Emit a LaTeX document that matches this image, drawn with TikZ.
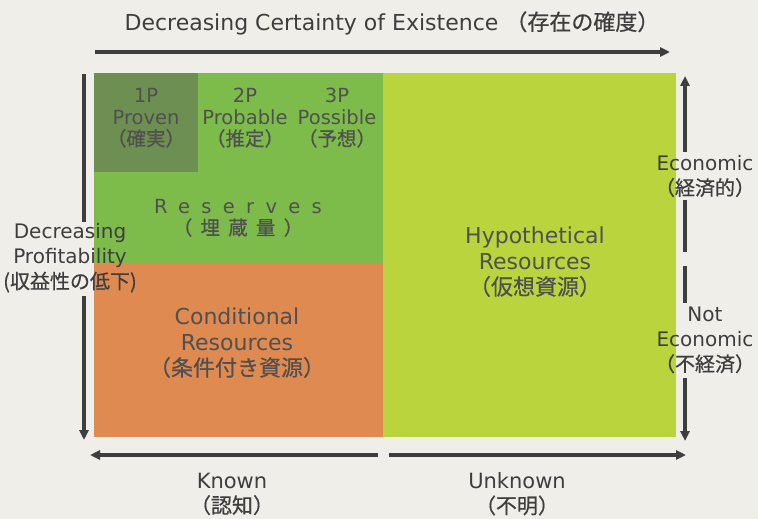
\documentclass[tikz,border=0pt]{standalone}
\usepackage{fontspec}
\setmainfont{DejaVu Sans}
\newfontfamily\jp{Noto Sans CJK JP}[FakeBold=0.6]
\usetikzlibrary{arrows.meta}
\definecolor{bg}{HTML}{EFEEE9}
\definecolor{darkg}{HTML}{6E8F52}
\definecolor{midg}{HTML}{7DBB4A}
\definecolor{orng}{HTML}{DF8A50}
\definecolor{yelg}{HTML}{BAD43E}
\definecolor{ink}{HTML}{3E3E3E}
\definecolor{inner}{HTML}{505050}
\tikzset{
  lbl/.style={text=ink, align=center, inner sep=1pt, font=\fontsize{20}{25}\selectfont},
  inlbl/.style={text=inner, align=center, inner sep=0pt, font=\fontsize{19.5}{21.5}\selectfont},
  bigl/.style={text=inner, align=center, inner sep=0pt, font=\fontsize{22}{25.5}\selectfont},
  axis/.style={draw=ink, line width=3.2pt, -{Triangle[length=10pt,width=9pt]}},
  gapcover/.style={fill=bg},
}
\begin{document}
\begin{tikzpicture}[x=1pt,y=-1pt]
\fill[bg] (0,0) rectangle (758,519);
\useasboundingbox (0,0) rectangle (758,519);
% regions
\fill[yelg] (383,73) rectangle (676,437);
\fill[midg] (94,73) rectangle (383,263);
\fill[darkg] (94,73) rectangle (198,172);
\fill[orng] (94,263) rectangle (383,437);
% title
\node[lbl, font=\fontsize{22}{24}\selectfont] (title) at (392,23) {Decreasing Certainty of Existence {\jp（存在の確度）}};
\coordinate (tl) at (95,52);
\coordinate (tr) at (670,52);
\draw[axis] (tl) -- (tr);
% left vertical
\coordinate (lt) at (84,74);
\coordinate (lb) at (84,440);
\draw[axis] (lt) -- (lb);
\fill[gapcover] (79,222) rectangle (89,296);
\node[lbl, inner sep=0pt] (profit) at (70,258) {Decreasing\\Profitability\\{\jp (収益性の低下)}};
% right vertical
\coordinate (rt) at (685,76);
\coordinate (rm1) at (685,252);
\coordinate (rm2) at (685,266);
\coordinate (rb) at (685,441);
\draw[axis] (rm1) -- (rt);
\draw[axis] (rm2) -- (rb);
\fill[gapcover] (680,152) rectangle (690,200);
\fill[gapcover] (680,303) rectangle (690,378);
\node[lbl, inner sep=0pt] (econ) at (705,176) {Economic\\{\jp（経済的）}};
\node[lbl, inner sep=0pt] (notecon) at (705,340) {Not\\Economic\\{\jp（不経済）}};
% bottom arrows
\coordinate (bl1) at (378,455);
\coordinate (bl2) at (90,455);
\coordinate (br1) at (389,455);
\coordinate (br2) at (686,455);
\draw[axis] (bl1) -- (bl2);
\draw[axis] (br1) -- (br2);
\node[lbl, font=\fontsize{21}{25}\selectfont] (known) at (232,494) {Known\\{\jp（認知）}};
\node[lbl, font=\fontsize{21}{25}\selectfont] (unknown) at (517,494) {Unknown\\{\jp（不明）}};
% inner labels
\node[inlbl] (p1) at (146,118) {1P\\Proven\\{\jp（確実）}};
\node[inlbl] (p2) at (245,118) {2P\\Probable\\{\jp（推定）}};
\node[inlbl] (p3) at (337,118) {3P\\Possible\\{\jp（予想）}};
\node[inlbl] (res) at (238,218) {\addfontfeature{LetterSpace=58}Reserves\\{\jp\addfontfeature{LetterSpace=42}（埋蔵量）}};
\node[bigl] (hyp) at (535,262) {Hypothetical\\Resources\\{\jp（仮想資源）}};
\node[bigl] (cond) at (237,343) {Conditional\\Resources\\{\jp（条件付き資源）}};
\end{tikzpicture}
\end{document}
